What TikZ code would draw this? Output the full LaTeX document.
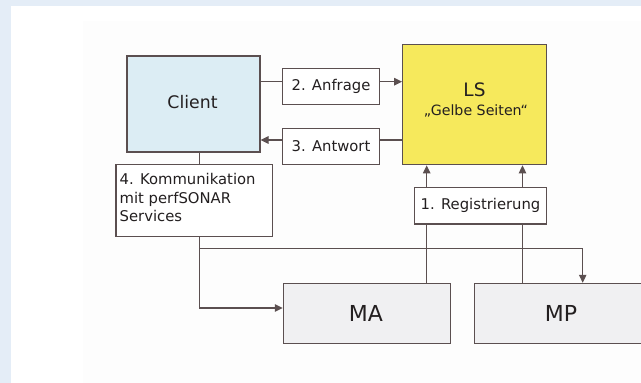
\documentclass[tikz,border=0pt]{standalone}
\usepackage{fontspec}
\setmainfont{DejaVu Sans}
\usetikzlibrary{arrows.meta}
\definecolor{frameblue}{HTML}{E4EDF7}
\definecolor{paper}{HTML}{FDFDFD}
\definecolor{linec}{HTML}{5B4F50}
\definecolor{clientc}{HTML}{DCEDF4}
\definecolor{lsc}{HTML}{F6E95C}
\definecolor{mac}{HTML}{F0F0F2}
\definecolor{txt}{HTML}{231F20}
\tikzset{
  box/.style={draw=linec, line width=1.1pt, inner sep=0pt, text=txt},
  lbl/.style={box, fill=white, font=\fontsize{14.8}{18}\selectfont},
  conn/.style={draw=linec, line width=1.1pt},
  arr/.style={conn, -{Triangle[length=8pt,width=7.5pt]}},
}
\begin{document}
\begin{tikzpicture}[x=1pt,y=-1pt]
\fill[frameblue] (0,0) rectangle (641,383);
\fill[white] (11,6) rectangle (641,383);
\fill[paper] (83,21) rectangle (641,383);
\useasboundingbox (0,0) rectangle (641,383);
% boxes
\node[box, fill=clientc, minimum width=133pt, minimum height=96pt] (client) at (193.5,104) {};
\node[text=txt, inner sep=0pt, font=\fontsize{17.3}{20}\selectfont] (clienttext) at (192.5,101.7) {Client};
\node[box, fill=lsc, minimum width=144pt, minimum height=120pt] (ls) at (474.7,104.8) {};
\node[text=txt, inner sep=0pt, font=\fontsize{18.5}{22}\selectfont] (lstext) at (474.5,90) {LS};
\node[text=txt, inner sep=0pt, font=\fontsize{14.2}{17}\selectfont] (gelbe) at (476,110.5) {„Gelbe Seiten“};
\node[box, fill=mac, minimum width=167.4pt, minimum height=60.4pt] (ma) at (367,313.5) {};
\node[text=txt, inner sep=0pt, font=\fontsize{22}{26}\selectfont] (matext) at (366,313.5) {MA};
\node[box, fill=mac, minimum width=172.6pt, minimum height=60.4pt] (mp) at (561,313.5) {};
\node[text=txt, inner sep=0pt, font=\fontsize{22}{26}\selectfont] (mptext) at (561,313.5) {MP};
% label boxes
\node[lbl, minimum width=96.6pt, minimum height=36pt] (anf) at (331,86.3) {2. Anfrage};
\node[lbl, minimum width=96.6pt, minimum height=36pt] (antw) at (331,146.3) {3. Antwort};
\node[lbl, minimum width=132.4pt, minimum height=36.3pt] (reg) at (480.5,205.8) {1. Registrierung};
\node[lbl, minimum width=156.7pt, minimum height=72.4pt] (komm) at (194.3,200.5) {};
\node[anchor=north west, align=left, inner sep=0pt, text=txt, font=\fontsize{14.8}{18.3}\selectfont] (kommtext) at (119.5,173.5) {4. Kommunikation\\mit perfSONAR\\Services};
% coordinates
\coordinate (c1) at (client.east |- 0,81.7);
\coordinate (c2) at (ls.west |- 0,81.7);
\coordinate (c3) at (ls.west |- 0,140);
\coordinate (c4) at (client.east |- 0,140);
\coordinate (c5) at (199.3,248.3);
\coordinate (c6) at (582.7,248.3);
\coordinate (c7) at (199.3,308);
% connectors
\draw[conn] (c1) -- (anf.west |- c1);
\draw[arr] (anf.east |- c2) -- (c2);
\draw[conn] (c3) -- (antw.east |- c3);
\draw[arr] (antw.west |- c4) -- (c4);
\draw[conn] (client.south -| c5) -- (komm.north -| c5);
\draw[conn] (komm.south -| c5) -- (c5) -- (c6);
\draw[arr] (c6) -- (mp.north -| c6);
\draw[arr] (komm.south -| c7) -- (c7) -- (ma.west |- c7);
\draw[conn] (ma.north -| 426.7,0) -- (reg.south -| 426.7,0);
\draw[arr] (reg.north -| 426.7,0) -- (ls.south -| 426.7,0);
\draw[conn] (mp.north -| 522.5,0) -- (reg.south -| 522.5,0);
\draw[arr] (reg.north -| 522.5,0) -- (ls.south -| 522.5,0);
\end{tikzpicture}
\end{document}
